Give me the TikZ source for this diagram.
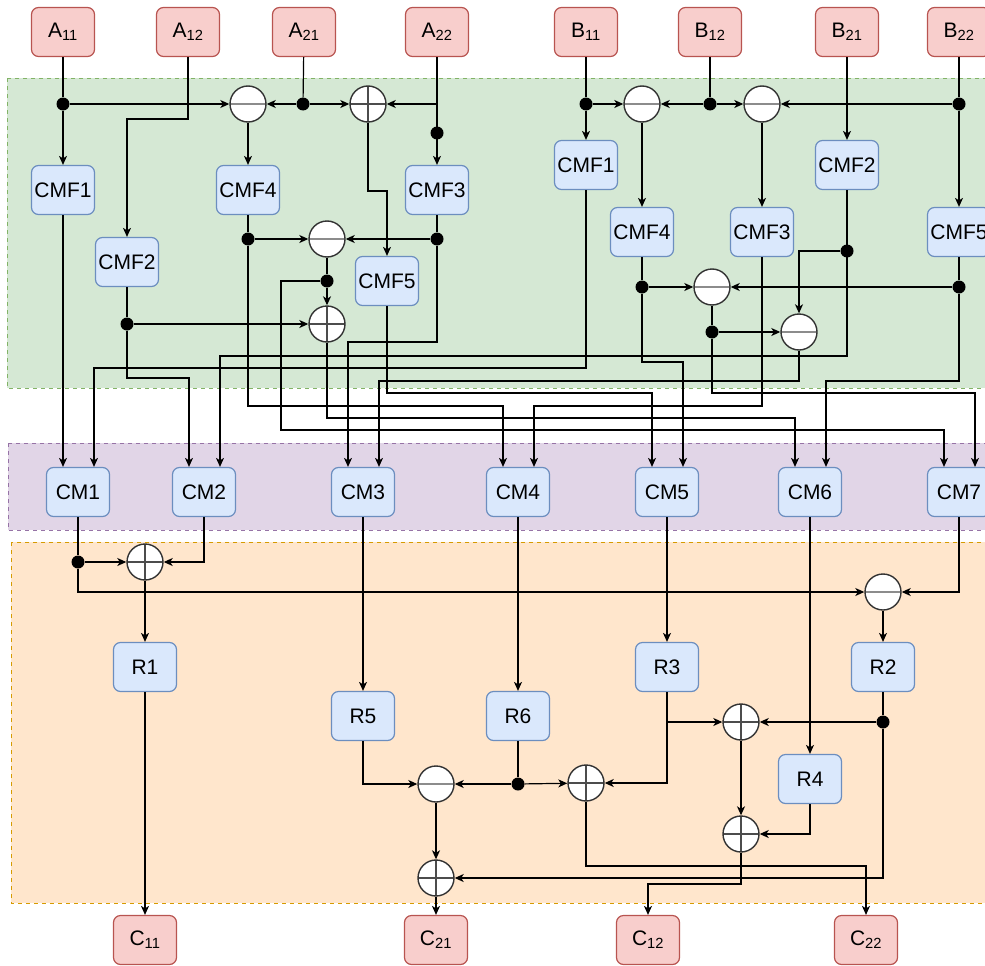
\documentclass[tikz,border=0pt]{standalone}
\usepackage{fontspec}
\setmainfont{Liberation Sans}
\usetikzlibrary{arrows.meta}

\definecolor{ioFill}{HTML}{F8CECC}
\definecolor{ioLine}{HTML}{B85450}
\definecolor{blkFill}{HTML}{DAE8FC}
\definecolor{blkLine}{HTML}{6C8EBF}
\definecolor{grnFill}{HTML}{D5E8D4}
\definecolor{grnLine}{HTML}{82B366}
\definecolor{purFill}{HTML}{E1D5E7}
\definecolor{purLine}{HTML}{9673A6}
\definecolor{orgFill}{HTML}{FFE6CC}
\definecolor{orgLine}{HTML}{D79B00}

\begin{document}
\begin{tikzpicture}[
    x=1pt, y=-1pt,
    box/.style={draw, line width=1.2pt, rounded corners=7pt, minimum width=63pt, minimum height=49pt, inner sep=0pt, font=\fontsize{21}{25}\selectfont},
    io/.style={box, draw=ioLine, fill=ioFill},
    blk/.style={box, draw=blkLine, fill=blkFill},
    sum/.style={circle, draw=black!80, line width=1.4pt, fill=white, minimum size=36pt, inner sep=0pt},
    plus/.style={sum, path picture={\draw[black!70, line width=1.2pt] (path picture bounding box.north) -- (path picture bounding box.south) (path picture bounding box.west) -- (path picture bounding box.east);}},
    minus/.style={sum, path picture={\draw[black!45, line width=1.6pt] (path picture bounding box.west) -- (path picture bounding box.east);}},
    dot/.style={circle, fill=black, inner sep=0pt, minimum size=13pt},
    zone/.style={line width=1pt, dash pattern=on 4pt off 4pt},
    wire/.style={line width=1.2pt},
    arrow/.style={wire, -{Stealth[length=9pt, width=8pt, inset=2.5pt]}}
]
\useasboundingbox (0,0) rectangle (985,966);

% regions
\filldraw[zone, fill=grnFill, draw=grnLine] (7,78) rectangle (995,388);
\filldraw[zone, fill=purFill, draw=purLine] (8,443) rectangle (995,530);
\filldraw[zone, fill=orgFill, draw=orgLine] (11,542) rectangle (995,903);

% inputs
\node[io] (a11) at (63,32) {A\textsubscript{11}};
\node[io] (a12) at (188,32) {A\textsubscript{12}};
\node[io] (a21) at (304,32) {A\textsubscript{21}};
\node[io] (a22) at (437,32) {A\textsubscript{22}};
\node[io] (b11) at (586,32) {B\textsubscript{11}};
\node[io] (b12) at (710,32) {B\textsubscript{12}};
\node[io] (b21) at (847,32) {B\textsubscript{21}};
\node[io] (b22) at (959,32) {B\textsubscript{22}};

% A side
\node[minus] (mA1) at (248,104) {};
\node[plus] (pA1) at (368,104) {};
\node[dot] (dA1) at (63,104) {};
\node[dot] (dA2) at (303,104) {};
\node[dot] (dA3) at (437,133) {};
\node[blk] (cmfa1) at (63,190) {CMF1};
\node[blk] (cmfa4) at (248,190) {CMF4};
\node[blk] (cmfa3) at (437,190) {CMF3};
\node[blk] (cmfa2) at (127,262) {CMF2};
\node[blk] (cmfa5) at (387,281) {CMF5};
\node[minus] (mA2) at (327,239) {};
\node[plus] (pA2) at (327,324) {};
\node[dot] (dA4) at (248,239) {};
\node[dot] (dA5) at (437,239) {};
\node[dot] (dA6) at (327,281) {};
\node[dot] (dA7) at (127,324) {};

% B side
\node[minus] (mB1) at (642,104) {};
\node[minus] (mB2) at (762,104) {};
\node[dot] (dB1) at (586,104) {};
\node[dot] (dB2) at (710,104) {};
\node[dot] (dB3) at (959,104) {};
\node[blk] (cmfb1) at (586,165) {CMF1};
\node[blk] (cmfb2) at (847,165) {CMF2};
\node[blk] (cmfb4) at (642,232) {CMF4};
\node[blk] (cmfb3) at (762,232) {CMF3};
\node[blk] (cmfb5) at (959,232) {CMF5};
\node[minus] (mB3) at (712,287) {};
\node[minus] (mB4) at (799,332) {};
\node[dot] (dB4) at (847,251) {};
\node[dot] (dB5) at (642,287) {};
\node[dot] (dB6) at (959,287) {};
\node[dot] (dB7) at (712,332) {};

% CM row
\foreach \n/\x in {1/78, 2/204, 3/363, 4/518, 5/667, 6/810, 7/959} {
    \node[blk] (cm\n) at (\x,492) {CM\n};
    \coordinate (cmL\n) at ([xshift=-15pt]cm\n.north);
    \coordinate (cmR\n) at ([xshift=16pt]cm\n.north);
}
\foreach \y in {119,191,342,356,362,368,378,381,393,406,418,430,866,884}
    \coordinate (h\y) at (0,\y);

% bottom
\node[plus] (pC1) at (145,562) {};
\node[minus] (mC1) at (883,592) {};
\node[dot] (dC1) at (78,562) {};
\node[blk] (r1) at (145,667) {R1};
\node[blk] (r3) at (667,667) {R3};
\node[blk] (r2) at (883,667) {R2};
\node[blk] (r5) at (363,716) {R5};
\node[blk] (r6) at (518,716) {R6};
\node[blk] (r4) at (810,779) {R4};
\node[plus] (pC2) at (741,722) {};
\node[dot] (dC2) at (883,722) {};
\node[minus] (mC2) at (436,784) {};
\node[plus] (pC3) at (586,783) {};
\node[dot] (dC3) at (518,784) {};
\node[plus] (pC4) at (741,834) {};
\node[plus] (pC5) at (436,878) {};
\node[io] (c11) at (145,940) {C\textsubscript{11}};
\node[io] (c21) at (436,940) {C\textsubscript{21}};
\node[io] (c12) at (648,940) {C\textsubscript{12}};
\node[io] (c22) at (866,940) {C\textsubscript{22}};

% A side wiring
\draw[wire] (a11) -- (dA1);
\draw[arrow] (dA1) -- (cmfa1);
\draw[arrow] (dA1) -- (mA1);
\draw[arrow] (a12) |- (cmfa2 |- h119) -- (cmfa2);
\draw[wire] (a21) -- (dA2);
\draw[arrow] (dA2) -- (mA1);
\draw[arrow] (dA2) -- (pA1);
\draw[arrow] (a22) -- (cmfa3);
\draw[arrow] (a22 |- pA1) -- (pA1);
\draw[arrow] (mA1) -- (cmfa4);
\draw[arrow] (pA1) |- (cmfa5 |- h191) -- (cmfa5);
\draw[wire] (cmfa4) -- (dA4);
\draw[arrow] (dA4) -- (mA2);
\draw[wire] (cmfa3) -- (dA5);
\draw[arrow] (dA5) -- (mA2);
\draw[wire] (mA2) -- (dA6);
\draw[arrow] (dA6) -- (pA2);
\draw[wire] (cmfa2) -- (dA7);
\draw[arrow] (dA7) -- (pA2);

% B side wiring
\draw[wire] (b11) -- (dB1);
\draw[arrow] (dB1) -- (cmfb1);
\draw[arrow] (dB1) -- (mB1);
\draw[wire] (b12) -- (dB2);
\draw[arrow] (dB2) -- (mB1);
\draw[arrow] (dB2) -- (mB2);
\draw[arrow] (b21) -- (cmfb2);
\draw[wire] (b22) -- (dB3);
\draw[arrow] (dB3) -- (cmfb5);
\draw[arrow] (dB3) -- (mB2);
\draw[arrow] (mB1) -- (cmfb4);
\draw[arrow] (mB2) -- (cmfb3);
\draw[arrow] (dB4) -| (mB4);
\draw[wire] (cmfb4) -- (dB5);
\draw[arrow] (dB5) -- (mB3);
\draw[wire] (cmfb5) -- (dB6);
\draw[arrow] (dB6) -- (mB3);
\draw[wire] (mB3) -- (dB7);
\draw[arrow] (dB7) -- (mB4);

% into the CM row
\draw[arrow] (cmfa1) -- (cmL1);
\draw[arrow] (cmfb1) |- (cmR1 |- h368) -- (cmR1);
\draw[arrow] (dA7) |- (cmL2 |- h378) -- (cmL2);
\draw[arrow] (cmfb2) |- (cmR2 |- h356) -- (cmR2);
\draw[arrow] (dA5) |- (cmL3 |- h342) -- (cmL3);
\draw[arrow] (mB4) |- (cmR3 |- h381) -- (cmR3);
\draw[arrow] (dA4) |- (cmL4 |- h406) -- (cmL4);
\draw[arrow] (cmfb3) |- (cmR4 |- h406) -- (cmR4);
\draw[arrow] (cmfa5) |- (cmL5 |- h393) -- (cmL5);
\draw[arrow] (dB5) |- (cmR5 |- h362) -- (cmR5);
\draw[arrow] (pA2) |- (cmL6 |- h418) -- (cmL6);
\draw[arrow] (dB6) |- (cmR6 |- h381) -- (cmR6);
\draw[arrow] (dA6) -- ++(-46,0) |- (cmL7 |- h430) -- (cmL7);
\draw[arrow] (dB7) |- (cmR7 |- h393) -- (cmR7);

% results
\draw[wire] (cm1) -- (dC1);
\draw[arrow] (dC1) -- (pC1);
\draw[arrow] (dC1) |- (mC1);
\draw[arrow] (cm2) |- (pC1);
\draw[arrow] (cm7) |- (mC1);
\draw[arrow] (pC1) -- (r1);
\draw[arrow] (mC1) -- (r2);
\draw[arrow] (cm3) -- (r5);
\draw[arrow] (cm4) -- (r6);
\draw[arrow] (cm5) -- (r3);
\draw[arrow] (cm6) -- (r4);
\draw[arrow] (r1) -- (c11);
\draw[arrow] (r3) |- (pC3);
\draw[arrow] (r3 |- pC2) -- (pC2);
\draw[wire] (r2) -- (dC2);
\draw[arrow] (dC2) -- (pC2);
\draw[arrow] (dC2) |- (pC5);
\draw[arrow] (pC2) -- (pC4);
\draw[arrow] (r4) |- (pC4);
\draw[arrow] (r5) |- (mC2);
\draw[wire] (r6) -- (dC3);
\draw[arrow] (dC3) -- (mC2);
\draw[arrow] (dC3) -- (pC3);
\draw[arrow] (mC2) -- (pC5);
\draw[arrow] (pC5) -- (c21);
\draw[arrow] (pC4) |- (c12 |- h884) -- (c12);
\draw[arrow] (pC3) |- (c22 |- h866) -- (c22);
\end{tikzpicture}
\end{document}
